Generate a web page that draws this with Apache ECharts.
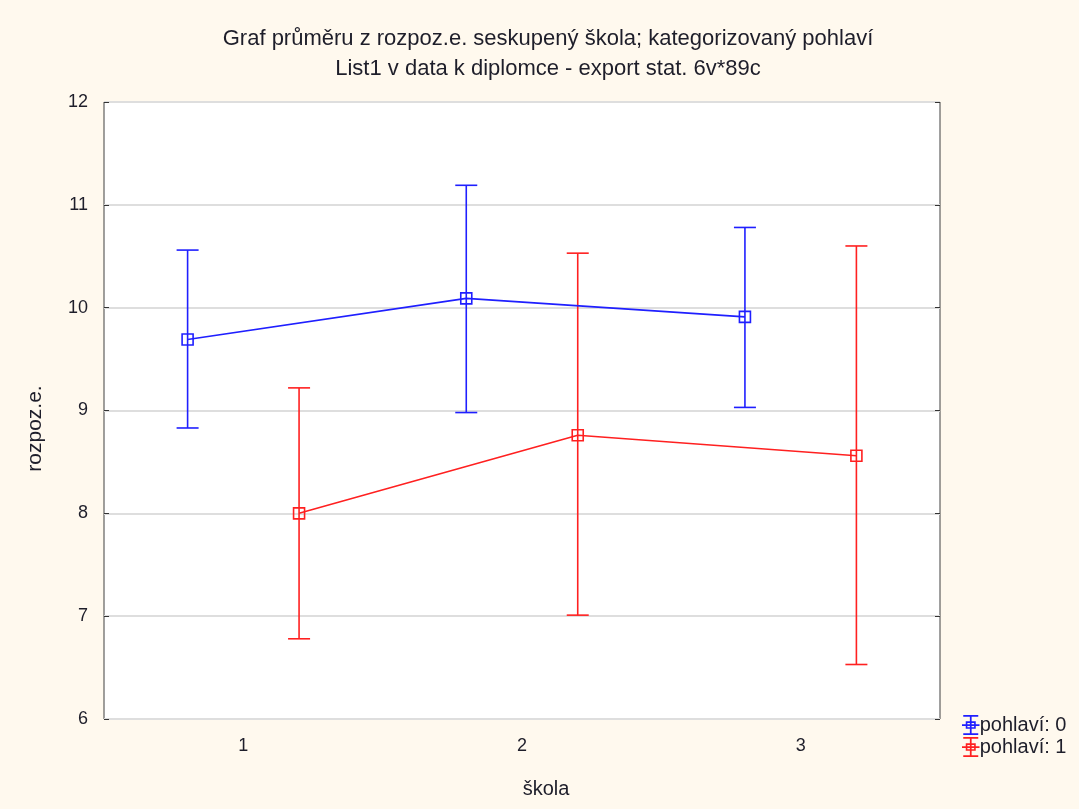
<!DOCTYPE html>
<html>
<head>
<meta charset="utf-8">
<script src="https://cdn.jsdelivr.net/npm/echarts@6/dist/echarts.min.js"></script>
<style>
  html, body { margin: 0; padding: 0; background: #fff9ee; }
  #chart { width: 1079px; height: 809px; }
</style>
</head>
<body>
<div id="chart"></div>
<script>
// škola categories and y ticks
const skolaLabels = ['1', '2', '3']
const yMin = 6
const yMax = 12

// pohlaví: 0 (blue), plotted left of each category
const xPos0 = [0.8, 1.8, 2.8]
const mean0 = [9.69, 10.09, 9.91]
const low0 = [8.83, 8.98, 9.03]
const high0 = [10.56, 11.19, 10.78]

// pohlaví: 1 (red), plotted right of each category
const xPos1 = [1.2, 2.2, 3.2]
const mean1 = [8.0, 8.76, 8.56]
const low1 = [6.78, 7.01, 6.53]
const high1 = [9.22, 10.53, 10.6]

const blue = '#1f1fff'
const red = '#ff2020'
const textColor = '#1e1e2a'
const font = '"Liberation Sans", Arial, sans-serif'

// filled glyph: caps, stem, hollow square, line through
const legendIcon = 'path://M2 0h12v1.4h-12Z M7.3 0h1.4v16h-1.4Z M2 14.6h12v1.4h-12Z ' +
  'M4 5h8v6h-8Z M5.3 6.3v3.4h5.4v-3.4Z M1 7.3h14v1.4h-14Z'

function errorRender(params, api) {
  const x = api.value(0)
  const top = api.coord([x, api.value(2)])
  const bot = api.coord([x, api.value(1)])
  const half = 11
  const style = { stroke: api.visual('color'), lineWidth: 1.6 }
  return {
    type: 'group',
    children: [
      { type: 'line', shape: { x1: top[0], y1: top[1], x2: bot[0], y2: bot[1] }, style },
      { type: 'line', shape: { x1: top[0] - half, y1: top[1], x2: top[0] + half, y2: top[1] }, style },
      { type: 'line', shape: { x1: bot[0] - half, y1: bot[1], x2: bot[0] + half, y2: bot[1] }, style },
    ],
  }
}

function lineSeries(name, color, xs, ys) {
  return {
    name,
    type: 'line',
    xAxisIndex: 1,
    data: xs.map((x, i) => [x, ys[i]]),
    symbol: 'rect',
    symbolSize: 11,
    lineStyle: { color, width: 1.6 },
    itemStyle: { color: 'rgba(0,0,0,0)', borderColor: color, borderWidth: 1.6 },
    z: 3,
  }
}

function errorSeries(name, color, xs, lo, hi) {
  return {
    name,
    type: 'custom',
    xAxisIndex: 1,
    renderItem: errorRender,
    itemStyle: { color },
    encode: { x: 0, y: [1, 2] },
    data: xs.map((x, i) => [x, lo[i], hi[i]]),
    z: 2,
  }
}

const chart = echarts.init(document.getElementById('chart'))

chart.setOption({
  backgroundColor: '#fff9ee',
  animation: false,
  textStyle: { fontFamily: font },
  title: {
    text: 'Graf průměru z rozpoz.e. seskupený škola; kategorizovaný pohlaví\nList1 v data k diplomce - export stat. 6v*89c',
    left: 548,
    top: 24,
    padding: 0,
    textAlign: 'center',
    textStyle: { fontFamily: font, fontSize: 22, fontWeight: 'normal', color: textColor, lineHeight: 30 },
  },
  legend: {
    orient: 'vertical',
    left: 957,
    top: 710,
    itemWidth: 18,
    itemHeight: 20,
    itemGap: 2,
    textStyle: { fontFamily: font, fontSize: 20, color: textColor, padding: [0, 0, 0, -5] },
    data: [
      { name: 'pohlaví: 0', icon: legendIcon, itemStyle: { color: blue } },
      { name: 'pohlaví: 1', icon: legendIcon, itemStyle: { color: red } },
    ],
  },
  grid: {
    left: 104,
    right: 139,
    top: 102,
    bottom: 90,
    show: true,
    backgroundColor: '#ffffff',
    borderColor: '#404040',
    borderWidth: 1,
  },
  xAxis: [
    {
      type: 'category',
      data: skolaLabels,
      boundaryGap: true,
      name: 'škola',
      nameLocation: 'middle',
      nameGap: 60,
      nameTextStyle: { fontFamily: font, fontSize: 20, color: textColor, padding: [0, 0, 0, 48] },
      axisLine: { show: false },
      axisTick: { inside: true, alignWithLabel: true, length: 5, lineStyle: { color: '#333' } },
      axisLabel: { fontFamily: font, fontSize: 18, color: textColor, margin: 18 },
      splitLine: { show: false },
    },
    {
      type: 'value',
      min: 0.5,
      max: 3.5,
      show: false,
      splitLine: { show: false },
    },
  ],
  yAxis: [
    {
      type: 'value',
      min: yMin,
      max: yMax,
      interval: 1,
      name: 'rozpoz.e.',
      nameLocation: 'middle',
      nameGap: 58,
      nameTextStyle: { fontFamily: font, fontSize: 21, color: textColor, padding: [0, 36, 0, 0] },
      axisLine: { show: false },
      axisTick: { show: true, inside: true, length: 5, lineStyle: { color: '#333' } },
      axisLabel: { fontFamily: font, fontSize: 18, color: textColor, margin: 16 },
      splitLine: { show: true, lineStyle: { color: '#dedede', width: 2 } },
    },
    {
      type: 'value',
      min: yMin,
      max: yMax,
      interval: 1,
      position: 'right',
      axisLine: { show: false },
      axisTick: { show: true, inside: true, length: 5, lineStyle: { color: '#333' } },
      axisLabel: { show: false },
      splitLine: { show: false },
    },
  ],
  series: [
    errorSeries('pohlaví: 0', blue, xPos0, low0, high0),
    errorSeries('pohlaví: 1', red, xPos1, low1, high1),
    lineSeries('pohlaví: 0', blue, xPos0, mean0),
    lineSeries('pohlaví: 1', red, xPos1, mean1),
  ],
})
</script>
</body>
</html>
